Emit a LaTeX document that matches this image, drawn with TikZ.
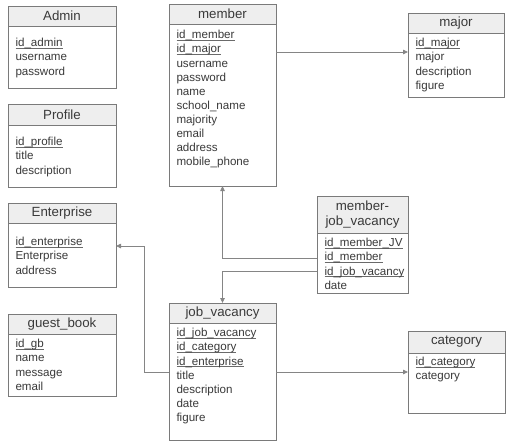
\documentclass[tikz,border=0pt]{standalone}
\usepackage{fontspec}
\setmainfont{Liberation Sans}
\usetikzlibrary{fit,arrows.meta,shadows}
\definecolor{bordc}{HTML}{7A7A7A}
\definecolor{linec}{HTML}{858585}
\definecolor{hdrc}{HTML}{EEEEEE}
\definecolor{txtc}{HTML}{3A3A3A}
\definecolor{ulc}{HTML}{6A6A6A}
\newcommand\keyu[1]{\setbox0\hbox{#1}\rlap{\color{ulc}\rule[-1.7pt]{\wd0}{0.6pt}}\box0}
\newcommand\erbox[9]{%
  \node[ebox, fit={(#2,#3) (#4,#5)}] (#1) {};
  \node[ehdr, fit={(#2,#3) (#4,#6)}] (#1-h) {};
  \node[etitle] (#1-t) at (#1-h.center) {#7};
  \node[erows, anchor=north west] (#1-r) at ([xshift=7.5pt]#2,#8-6) {\strut#9};
}
\tikzset{
  ebox/.style={draw=bordc, line width=0.8pt, fill=white, inner sep=0pt, outer sep=0pt,
    drop shadow={shadow xshift=1.2pt, shadow yshift=-1.2pt, fill=black!18, opacity=1}},
  ehdr/.style={draw=bordc, line width=0.8pt, fill=hdrc, inner sep=0pt, outer sep=0pt},
  etitle/.style={inner sep=0pt, outer sep=0pt, text=txtc,
    font=\fontsize{13.3}{15}\selectfont, align=center},
  erows/.style={inner sep=0pt, outer sep=0pt, text=txtc, align=left,
    font=\fontsize{11.6}{14.1}\selectfont},
  conn/.style={draw=linec, line width=0.8pt},
  arr/.style={conn, -{Triangle[length=5pt,width=4.5pt]}},
}
\begin{document}
\begin{tikzpicture}[x=1pt, y=-1pt]
\useasboundingbox (0,0) rectangle (510,442);
\erbox{admin}{8}{6}{116}{88}{26}{Admin}{43}{\keyu{id\_admin}\\username\\password}
\erbox{profile}{8}{104}{116}{187}{125}{Profile}{142}{\keyu{id\_profile}\\title\\description}
\erbox{enterprise}{8}{203}{116}{287}{223}{Enterprise}{242}{\keyu{id\_enterprise}\\Enterprise\\address}
\erbox{guest}{8}{314}{116}{396}{334}{guest\_book}{344}{\keyu{id\_gb}\\name\\message\\email}
\erbox{member}{169}{4}{276}{186}{24}{member}{35}{\keyu{id\_member}\\\keyu{id\_major}\\username\\password\\name\\school\_name\\majority\\email\\address\\mobile\_phone}
\erbox{major}{408}{13}{504}{97}{33}{major}{43}{\keyu{id\_major}\\major\\description\\figure}
\erbox{mjv}{317}{196}{408}{293}{233}{member-\\job\_vacancy}{243}{\keyu{id\_member\_JV}\\\keyu{id\_member}\\\keyu{id\_job\_vacancy}\\date}
\erbox{jv}{169}{303}{276}{440}{323}{job\_vacancy}{333}{\keyu{id\_job\_vacancy}\\\keyu{id\_category}\\\keyu{id\_enterprise}\\title\\description\\date\\figure}
\erbox{category}{408}{331}{505}{413}{353}{category}{362}{\keyu{id\_category}\\category}
% helper coordinates for connector rows
\coordinate (ymajor) at (0,52);
\coordinate (ymem) at (0,258);
\coordinate (yjob) at (0,271);
\coordinate (ytitle) at (0,372);
\coordinate (bend) at (144,246);
\draw[arr] (member.east |- ymajor) -- (major.west |- ymajor);
\draw[arr] (mjv.west |- ymem) -| (member.south);
\draw[arr] (mjv.west |- yjob) -| (jv.north);
\draw[arr] (jv.west |- ytitle) -| (bend) -- (enterprise.east |- bend);
\draw[arr] (jv.east |- ytitle) -- (category.west |- ytitle);
\end{tikzpicture}
\end{document}
